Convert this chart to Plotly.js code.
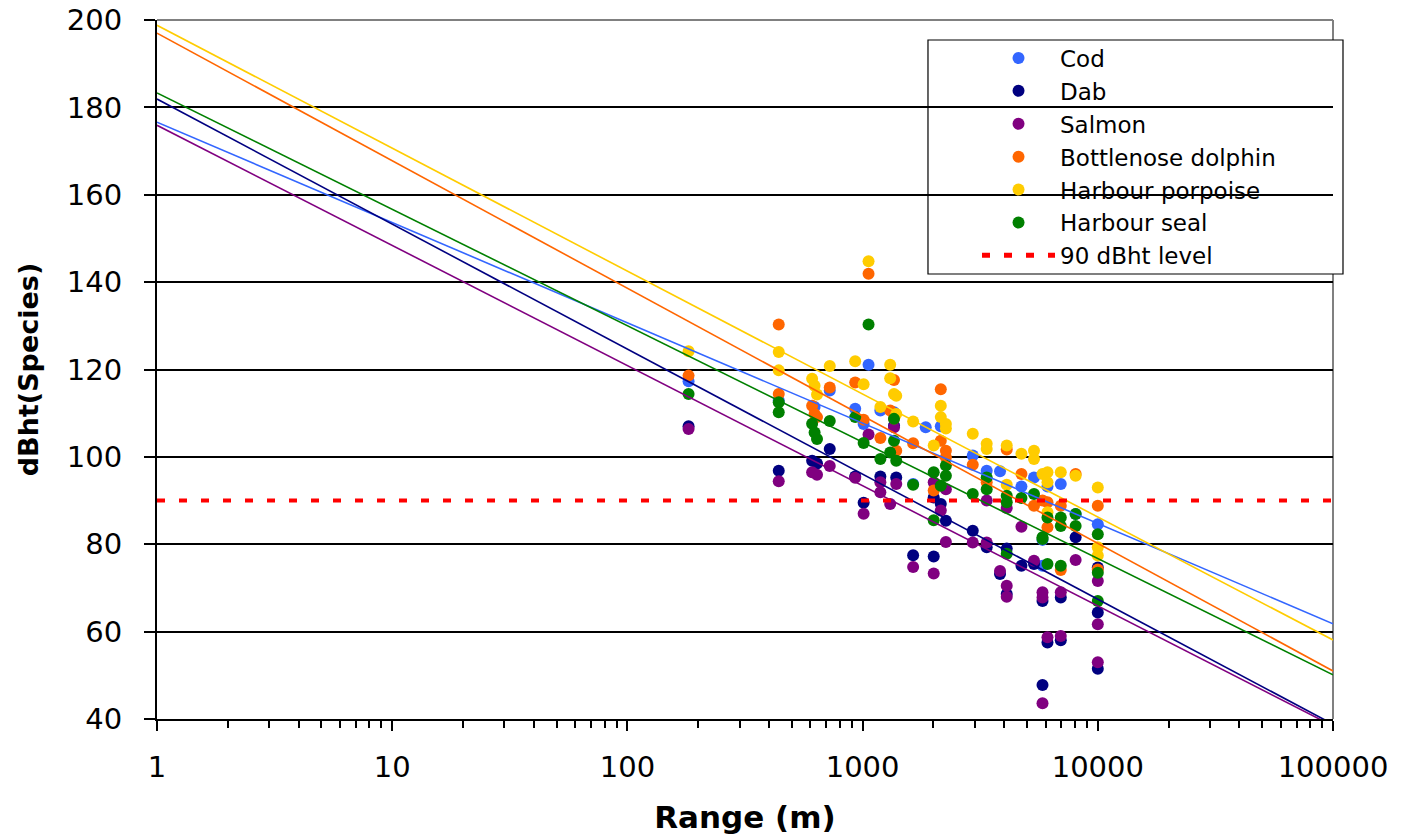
<!DOCTYPE html>
<html>
<head>
<meta charset="utf-8">
<script src="https://cdn.plot.ly/plotly-3.0.1.min.js"></script>
<style>html,body{margin:0;padding:0;background:#fff;}#chart{width:1404px;height:835px;}</style>
</head>
<body>
<div id="chart"></div>
<script>
// ---- Data ----
const seriesNames = ["Cod", "Dab", "Salmon", "Bottlenose dolphin", "Harbour porpoise", "Harbour seal"];
const seriesColors = ["#3366FF", "#000080", "#800080", "#FF6600", "#FFCC00", "#008000"];

const codRange = [182, 440, 625, 725, 930, 1010, 1060, 1190, 1360, 1640, 1855, 2150, 2940, 3370, 3840, 4735, 5355, 5820, 5820, 6110, 6960, 8050, 10000];
const codDbht  = [117.3, 112.9, 111.4, 115.2, 111.0, 107.5, 121.1, 110.6, 110.2, 93.8, 106.8, 107.0, 100.3, 96.8, 96.7, 93.2, 95.3, 81.0, 75.1, 93.2, 93.8, 86.9, 84.6];

const dabRange = [182, 440, 610, 640, 725, 930, 1010, 1190, 1360, 1390, 1640, 2006, 2006, 2150, 2260, 2940, 3370, 3840, 4100, 4100, 4735, 5355, 5820, 5820, 6110, 6960, 6960, 8050, 10000, 10000, 10000];
const dabDbht  = [107.0, 96.8, 99.1, 98.5, 101.8, 95.5, 89.5, 95.5, 107.2, 95.3, 77.5, 90.7, 77.2, 89.2, 85.4, 83.1, 79.3, 73.2, 79.0, 68.6, 75.1, 75.5, 67.0, 47.8, 57.5, 67.8, 58.0, 81.6, 74.7, 64.4, 51.5];

const salmonRange = [182, 440, 610, 640, 725, 930, 1010, 1060, 1190, 1190, 1310, 1360, 1390, 1640, 2006, 2006, 2150, 2260, 2260, 2940, 3370, 3370, 3840, 4100, 4100, 4100, 4735, 5355, 5820, 5820, 5820, 6110, 6960, 6960, 8050, 10000, 10000, 10000];
const salmonDbht  = [106.4, 94.4, 96.5, 95.9, 97.9, 95.2, 87.0, 105.1, 94.2, 91.9, 89.2, 106.8, 93.8, 74.8, 94.2, 73.3, 87.7, 92.6, 80.5, 80.4, 90.0, 80.4, 73.9, 88.3, 70.5, 68.0, 84.0, 76.2, 69.0, 67.8, 43.6, 58.7, 69.0, 59.0, 76.4, 71.6, 61.7, 53.0];

const dolphinRange = [182, 440, 440, 610, 625, 640, 725, 930, 1010, 1060, 1190, 1310, 1360, 1360, 1390, 1640, 2006, 2150, 2150, 2260, 2260, 2940, 3370, 4100, 4735, 5355, 5820, 6110, 6110, 6960, 6960, 8050, 10000, 10000];
const dolphinDbht  = [118.6, 130.3, 114.4, 111.7, 109.8, 109.1, 115.9, 117.0, 108.5, 141.9, 104.3, 110.6, 117.6, 108.8, 101.4, 103.1, 92.3, 115.5, 103.7, 101.4, 99.9, 98.2, 94.2, 101.7, 96.1, 88.8, 90.0, 89.6, 83.9, 88.8, 74.1, 96.1, 88.8, 74.2];

const porpoiseRange = [182, 440, 440, 610, 625, 640, 725, 930, 1010, 1060, 1190, 1310, 1310, 1360, 1390, 1390, 1640, 2006, 2150, 2150, 2260, 2260, 2940, 3370, 3370, 4100, 4100, 4735, 5355, 5355, 5820, 6110, 6110, 6110, 6960, 8050, 10000, 10000, 10000];
const porpoiseDbht  = [124.2, 124.0, 119.8, 117.9, 116.3, 114.3, 120.8, 121.9, 116.6, 144.8, 111.4, 121.1, 118.0, 114.4, 114.0, 109.8, 108.1, 102.6, 111.7, 109.1, 107.5, 106.5, 105.3, 103.0, 101.8, 102.6, 93.6, 100.7, 101.4, 99.5, 96.1, 96.5, 94.2, 87.3, 96.5, 95.7, 93.0, 79.3, 77.4];

const sealRange = [182, 440, 440, 610, 625, 640, 725, 930, 1010, 1060, 1190, 1310, 1360, 1360, 1390, 1640, 2006, 2006, 2150, 2260, 2260, 2940, 3370, 3370, 4100, 4100, 4100, 4735, 5355, 5820, 5820, 6110, 6110, 6960, 6960, 6960, 8050, 8050, 10000, 10000, 10000];
const sealDbht  = [114.4, 112.5, 110.2, 107.6, 105.6, 104.1, 108.2, 109.1, 103.2, 130.3, 99.5, 101.0, 108.7, 103.7, 99.1, 93.6, 96.5, 85.5, 93.4, 98.0, 95.7, 91.5, 95.3, 92.6, 91.1, 89.6, 77.8, 90.6, 91.5, 81.2, 81.6, 86.1, 75.5, 86.1, 84.2, 75.1, 86.9, 84.2, 82.3, 73.5, 67.0];

// Trend-line values (dBht) read at range 1 m and at 100000 m
const fitRange = [1, 100000];
const fitAt1 = [176.6, 181.9, 175.9, 197.0, 198.8, 183.3];
const fitAt100k = [61.8, 38.8, 38.4, 51.0, 58.1, 50.1];

const levelName = "90 dBht level";
const levelValue = 90;

const xTickVals = [1, 10, 100, 1000, 10000, 100000];
const xTickText = ["1", "10", "100", "1000", "10000", "100000"];
const yTickVals = [40, 60, 80, 100, 120, 140, 160, 180, 200];

// ---- Build traces ----
const rangesList = [codRange, dabRange, salmonRange, dolphinRange, porpoiseRange, sealRange];
const dbhtList = [codDbht, dabDbht, salmonDbht, dolphinDbht, porpoiseDbht, sealDbht];

const traces = [];
for (let i = 0; i < seriesNames.length; i++) {
  traces.push({
    type: "scatter", mode: "markers", name: seriesNames[i],
    x: rangesList[i], y: dbhtList[i],
    marker: {color: seriesColors[i], size: 12, line: {width: 0}},
    cliponaxis: true
  });
}
for (let i = 0; i < seriesNames.length; i++) {
  traces.push({
    type: "scatter", mode: "lines", name: seriesNames[i] + " trend",
    x: fitRange, y: [fitAt1[i], fitAt100k[i]],
    line: {color: seriesColors[i], width: 1.6},
    showlegend: false, hoverinfo: "skip"
  });
}
traces.push({
  type: "scatter", mode: "lines", name: levelName,
  x: fitRange, y: fitRange.map(() => levelValue),
  line: {color: "#FF0000", width: 4, dash: "8px,14px"}
});

const FONT = "DejaVu Sans, Liberation Sans, Arial, sans-serif";

const layout = {
  width: 1404, height: 835,
  margin: {l: 157, r: 71, t: 20, b: 116, pad: 0},
  paper_bgcolor: "#ffffff", plot_bgcolor: "#ffffff",
  font: {family: FONT, color: "#000000"},
  showlegend: true,
  legend: {
    x: 0.6973, xanchor: "left", y: 0.9764, yanchor: "top",
    bgcolor: "rgba(0,0,0,0)", borderwidth: 0,
    font: {family: FONT, size: 23, color: "#000"},
    itemwidth: 73, tracegroupgap: 0,
    itemsizing: "constant"
  },
  xaxis: {
    type: "log", range: [0, 5],
    tickvals: xTickVals, ticktext: xTickText,
    ticks: "outside", ticklen: 10, tickwidth: 2, tickcolor: "#000",
    showline: true, linecolor: "#000", linewidth: 2,
    showgrid: false, zeroline: false,
    tickfont: {family: FONT, size: 29, color: "#000"},
    ticklabelstandoff: 11,
    minor: {ticks: "outside", ticklen: 7, tickwidth: 1.5, tickcolor: "#000", dtick: "D1", showgrid: false},
    title: {text: "<b>Range (m)</b>", font: {family: FONT, size: 31, color: "#000"}, standoff: 24}
  },
  yaxis: {
    range: [40, 200], tickvals: yTickVals,
    ticks: "outside", ticklen: 11, tickwidth: 2, tickcolor: "#000",
    showline: true, linecolor: "#000", linewidth: 2,
    showgrid: true, gridcolor: "#000", gridwidth: 1.5, zeroline: false,
    tickfont: {family: FONT, size: 29, color: "#000"},
    ticklabelstandoff: 16,
    title: {text: "<b>dBht(Species)</b>", font: {family: FONT, size: 27, color: "#000"}, standoff: 20}
  },
  shapes: [
    {type: "line", xref: "paper", yref: "paper", x0: 0, x1: 1, y0: 1, y1: 1, line: {color: "#808080", width: 2}, layer: "between"},
    {type: "line", xref: "paper", yref: "paper", x0: 1, x1: 1, y0: 0, y1: 1, line: {color: "#808080", width: 2}, layer: "between"},
    {type: "rect", xref: "paper", yref: "paper", x0: 0.6556, x1: 1.0085, y0: 0.6366, y1: 0.9714, fillcolor: "#ffffff", line: {color: "#000", width: 1.2}, layer: "between"}
  ]
};

Plotly.newPlot("chart", traces, layout, {displayModeBar: false, responsive: false});
</script>
</body>
</html>
